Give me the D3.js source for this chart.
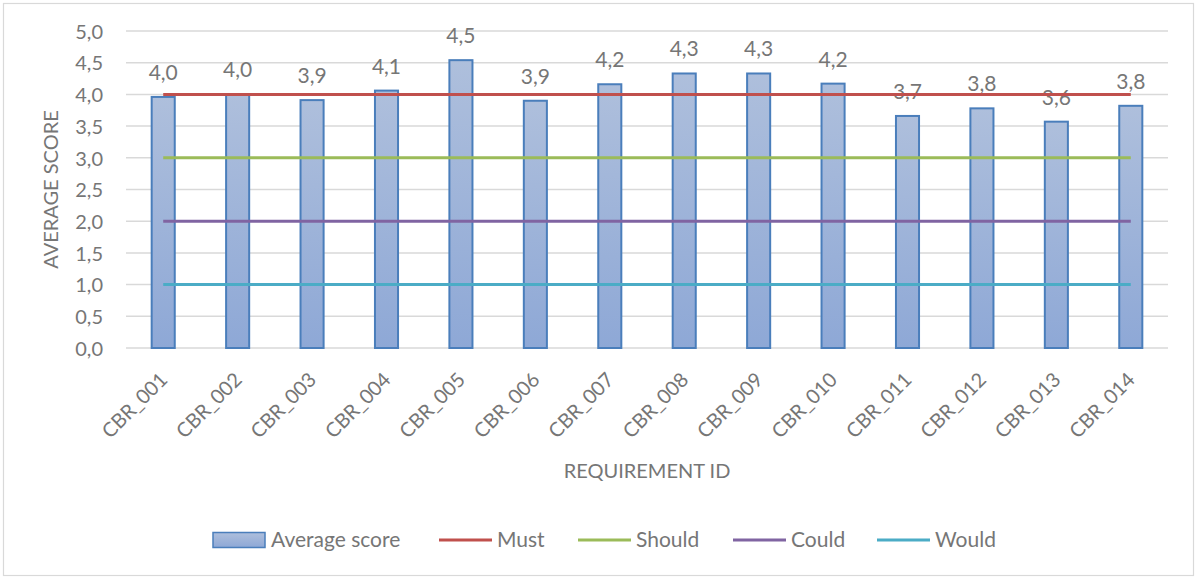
<!DOCTYPE html>
<html>
<head>
<meta charset="utf-8">
<script src="https://cdn.jsdelivr.net/npm/d3@7"></script>
<style>
  body { margin: 0; background: #fff; }
  svg text { font-family: Lato, "Open Sans", sans-serif; fill: #767676; }
</style>
</head>
<body>
<div id="chart"></div>
<script>
// data
var categories = ["CBR_001", "CBR_002", "CBR_003", "CBR_004", "CBR_005", "CBR_006", "CBR_007",
                  "CBR_008", "CBR_009", "CBR_010", "CBR_011", "CBR_012", "CBR_013", "CBR_014"];
var averageScore = [3.96, 4.0, 3.91, 4.06, 4.54, 3.9, 4.16, 4.33, 4.33, 4.17, 3.66, 3.78, 3.57, 3.82];
var thresholdNames = ["Must", "Should", "Could", "Would"];
var thresholdValues = [4, 3, 2, 1];
var yTicks = [0, 0.5, 1, 1.5, 2, 2.5, 3, 3.5, 4, 4.5, 5];

var W = 1197, H = 579;
var margin = {top: 31, right: 29, bottom: 231, left: 126};
var width = W - margin.left - margin.right,
    height = H - margin.top - margin.bottom;
var lineColors = ["#c0504d", "#9bbb59", "#8064a2", "#4bacc6"];
var fmt = function(v){ return d3.format(".1f")(v).replace(".", ","); };

var svg = d3.select("#chart").append("svg")
    .attr("width", W)
    .attr("height", H);

// outer border
svg.append("rect")
    .attr("x", 3.5).attr("y", 3.5)
    .attr("width", W - 7).attr("height", H - 7)
    .attr("fill", "#fff")
    .attr("stroke", "#d9d9d9")
    .attr("stroke-width", 1.2);

var defs = svg.append("defs");
var grad = defs.append("linearGradient")
    .attr("id", "barGrad")
    .attr("x1", 0).attr("y1", 0).attr("x2", 0).attr("y2", 1);
grad.append("stop").attr("offset", "0%").attr("stop-color", "#aebfdc");
grad.append("stop").attr("offset", "100%").attr("stop-color", "#8ea8d6");

var g = svg.append("g")
    .attr("transform", "translate(" + margin.left + "," + margin.top + ")");

var x = d3.scaleBand()
    .domain(categories)
    .range([0, width])
    .paddingInner(0.69)
    .paddingOuter(0.345);
var xc = d3.scalePoint()
    .domain(categories)
    .range([0, width])
    .padding(0.5);
var y = d3.scaleLinear()
    .domain([0, 5])
    .range([height, 0]);

// gridlines
g.append("g")
    .selectAll("line")
    .data(yTicks)
    .enter().append("line")
    .attr("x1", 0).attr("x2", width)
    .attr("y1", function(d){ return y(d); })
    .attr("y2", function(d){ return y(d); })
    .attr("stroke", "#d9d9d9")
    .attr("stroke-width", 1.5);

// y axis labels
var yAxis = g.append("g")
    .call(d3.axisLeft(y).tickValues(yTicks).tickFormat(fmt).tickSize(0).tickPadding(23));
yAxis.select(".domain").remove();
yAxis.selectAll("text")
    .style("font-size", "20px")
    .attr("fill", "#767676")
    .attr("dy", "0.36em");

// bars
g.selectAll(".bar")
    .data(averageScore)
    .enter().append("rect")
    .attr("class", "bar")
    .attr("x", function(d, i){ return x(categories[i]); })
    .attr("width", x.bandwidth())
    .attr("y", function(d){ return y(d); })
    .attr("height", function(d){ return height - y(d); })
    .attr("fill", "url(#barGrad)")
    .attr("stroke", "#4a7ebb")
    .attr("stroke-width", 2);

// data labels
g.selectAll(".lbl")
    .data(averageScore)
    .enter().append("text")
    .attr("class", "lbl")
    .attr("x", function(d, i){ return xc(categories[i]); })
    .attr("y", function(d){ return y(d) - 17; })
    .attr("text-anchor", "middle")
    .style("font-size", "21px")
    .text(fmt);

// threshold lines
thresholdValues.forEach(function(v, k){
    var pts = categories.map(function(c){ return [xc(c), y(v)]; });
    g.append("path")
        .attr("d", d3.line()(pts))
        .attr("fill", "none")
        .attr("stroke", lineColors[k])
        .attr("stroke-width", 3);
});

// x axis labels
var xAxis = g.append("g")
    .attr("transform", "translate(0," + height + ")")
    .call(d3.axisBottom(xc).tickSize(0).tickPadding(0));
xAxis.select(".domain").remove();
xAxis.selectAll("text")
    .style("font-size", "20px")
    .attr("fill", "#767676")
    .attr("text-anchor", "end")
    .attr("y", 0)
    .attr("dy", 0)
    .attr("transform", "translate(5,33) rotate(-45)");

// axis titles
svg.append("text")
    .attr("transform", "translate(58," + (margin.top + height / 2) + ") rotate(-90)")
    .attr("text-anchor", "middle")
    .style("font-size", "20px")
    .text("AVERAGE SCORE");
svg.append("text")
    .attr("x", margin.left + width / 2)
    .attr("y", 478)
    .attr("text-anchor", "middle")
    .style("font-size", "20px")
    .text("REQUIREMENT ID");

// legend
var legY = 540;
var leg = svg.append("g");
leg.append("rect")
    .attr("x", 213).attr("y", legY - 7.5)
    .attr("width", 52).attr("height", 15)
    .attr("fill", "url(#barGrad)")
    .attr("stroke", "#4a7ebb")
    .attr("stroke-width", 1.5);
leg.append("text")
    .attr("x", 271).attr("y", legY + 6.5)
    .style("font-size", "21px")
    .text("Average score");
var legX = [439, 578, 733, 877];
thresholdNames.forEach(function(name, k){
    leg.append("line")
        .attr("x1", legX[k]).attr("x2", legX[k] + 53)
        .attr("y1", legY).attr("y2", legY)
        .attr("stroke", lineColors[k])
        .attr("stroke-width", 3);
    leg.append("text")
        .attr("x", legX[k] + 58).attr("y", legY + 6.5)
        .style("font-size", "21px")
        .text(name);
});
</script>
</body>
</html>
